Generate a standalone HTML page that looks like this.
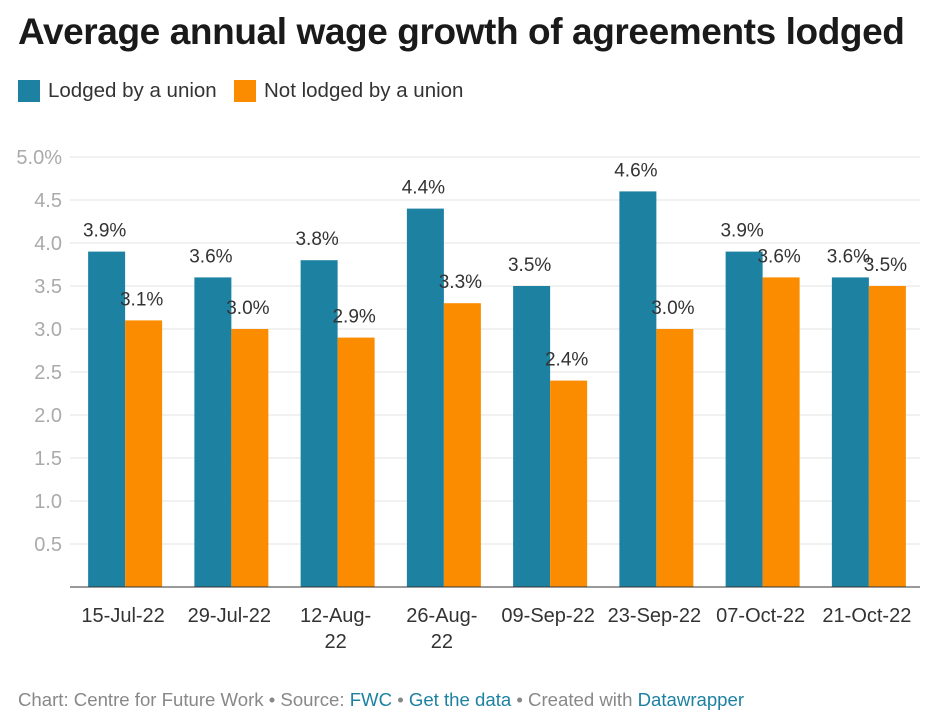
<!DOCTYPE html>
<html><head><meta charset="utf-8"><style>
body{margin:0;background:#fff;width:933px;height:728px;overflow:hidden;font-family:"Liberation Sans",sans-serif;}
#title{position:absolute;left:18px;top:11px;font-size:37px;font-weight:bold;color:#1a1a1a;letter-spacing:-0.4px;white-space:nowrap;}
.leg{position:absolute;top:79px;font-size:20.5px;color:#333;display:flex;align-items:center;white-space:nowrap;}
.sw{width:22px;height:22px;margin-right:8px;display:inline-block;}
#footer{position:absolute;left:18px;top:689px;font-size:18.6px;color:#888;white-space:nowrap;}
#footer span.l{color:#1d81a2;}
svg{position:absolute;left:0;top:0;}
</style></head><body>
<div id="title">Average annual wage growth of agreements lodged</div>
<div class="leg" style="left:18px"><span class="sw" style="background:#1d81a2"></span>Lodged by a union</div>
<div class="leg" style="left:234px"><span class="sw" style="background:#fb8c00"></span>Not lodged by a union</div>
<svg id="chart" width="933" height="728"></svg>
<div id="footer">Chart: Centre for Future Work • Source: <span class="l">FWC</span> • <span class="l">Get the data</span> • Created with <span class="l">Datawrapper</span></div>
<script>
const categories=[["15-Jul-22"],["29-Jul-22"],["12-Aug-","22"],["26-Aug-","22"],["09-Sep-22"],["23-Sep-22"],["07-Oct-22"],["21-Oct-22"]];
const unionVals=[3.9,3.6,3.8,4.4,3.5,4.6,3.9,3.6];
const nonUnionVals=[3.1,3.0,2.9,3.3,2.4,3.0,3.6,3.5];
const yTicks=[0.5,1.0,1.5,2.0,2.5,3.0,3.5,4.0,4.5,5.0];
const NS="http://www.w3.org/2000/svg";
const svg=document.getElementById('chart');
const x0=72,x1=922,yBase=587,yTop=157,yMax=5;
const y=v=>yBase-(v/yMax)*(yBase-yTop);
const band=(x1-x0)/categories.length;
const bw=37,pad=(band-2*bw)/2;
function mk(t,a,txt){const e=document.createElementNS(NS,t);for(const k in a)e.setAttribute(k,a[k]);if(txt!=null)e.textContent=txt;svg.appendChild(e);return e;}
yTicks.forEach(v=>{
 const g=mk('line',{x1:70,x2:920,y1:y(v),y2:y(v),stroke:'#e3e3e3','stroke-width':1});
 
 
 const t=mk('text',{x:62,y:y(v)+7,'text-anchor':'end','font-size':20,fill:'#aaa','font-family':'Liberation Sans'},v.toFixed(1)+(v===5?'%':''));
 
 
});
categories.forEach((c,i)=>{
 const bx=x0+i*band+pad;
 [[unionVals[i],'#1d81a2',bx],[nonUnionVals[i],'#fb8c00',bx+bw]].forEach(([v,col,xx],j)=>{
  const r=mk('rect',{x:xx,y:y(v),width:bw,height:yBase-y(v),fill:col});
  
  
  const t=mk('text',{x:xx+bw/2-2,y:y(v)-15,'text-anchor':'middle','font-size':19,fill:'#333','font-family':'Liberation Sans'},v.toFixed(1)+'%');
  
  
 });
 c.forEach((line,k)=>{
  const t=mk('text',{x:x0+i*band+band/2-2,y:622+k*26,'text-anchor':'middle','font-size':20,fill:'#333','font-family':'Liberation Sans'},line);
  
  
 });
});
const ax=mk('line',{x1:70,x2:920,y1:yBase,y2:yBase,stroke:'#333','stroke-width':1});


</script>
</body></html>
